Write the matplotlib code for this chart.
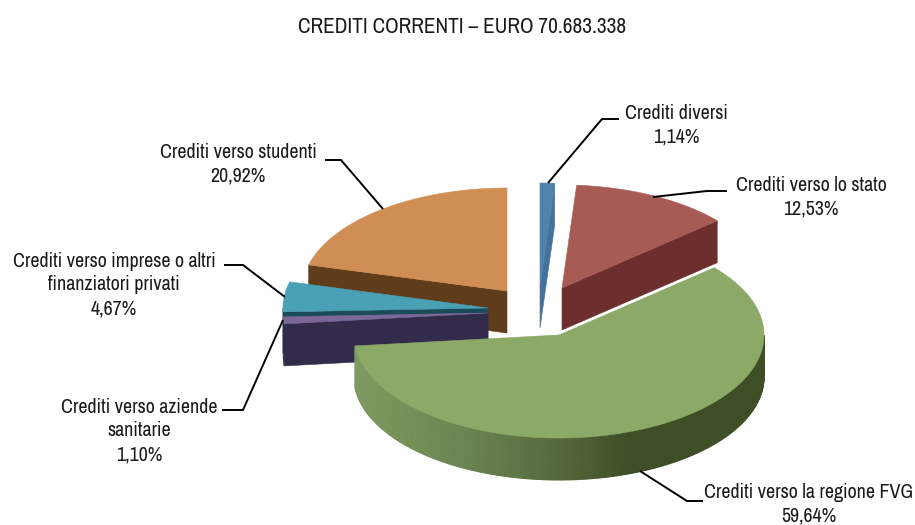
import numpy as np
import matplotlib
matplotlib.use("Agg")
import matplotlib.pyplot as plt
from matplotlib.colors import LinearSegmentedColormap, Normalize
from matplotlib.patches import Polygon
from matplotlib import font_manager as fm

installed = {f.name for f in fm.fontManager.ttflist}
for fam in ['Archivo Narrow', 'Pragati Narrow', 'PT Sans Narrow', 'Roboto Condensed', 'Liberation Sans']:
    if fam in installed:
        plt.rcParams['font.family'] = [fam, 'DejaVu Sans']
        break

TITLE = "CREDITI CORRENTI – EURO 70.683.338"
categories = ["Crediti diversi", "Crediti verso lo stato", "Crediti verso la regione FVG",
              "Crediti verso aziende\nsanitarie",
              "Crediti verso imprese o altri\nfinanziatori privati", "Crediti verso studenti"]
values = [1.14, 12.53, 59.64, 1.10, 4.67, 20.92]

top_colors = ["#5082ab", "#a85a55", "#8da968", "#7b6798", "#4aa0b5", "#d18e54"]
wall_colors = ["#44729b", "#6c2f2e", "#3e4e27", "#322b4b", "#1a4b58", "#5f3c1a"]
apexes = [(540, 286), (562, 288), (559, 335), (488, 313), (488, 308), (507, 291)]
draw_order = [5, 4, 3, 0, 1, 2]
RX, RY, DEPTH = 205, 103, 42

label_pos = [(676, 125), (811, 197), (809, 504), (139, 431), (114, 285), (238, 164)]
leaders = [[(548, 183), (602, 119), (619, 119)],
           [(653, 197), (707, 191), (727, 191)],
           [(640, 471), (687, 501), (703, 501)],
           [(283, 320), (243, 410), (222, 410)],
           [(285, 297), (243, 265), (224, 265)],
           [(383, 209), (341, 160), (325, 160)]]
grad_x = np.array([352, 390, 470, 560, 630, 764])
grad_c = ["#7f9a62", "#78945a", "#6b8350", "#56693b", "#3e4e27", "#3e4e27"]
rim_cmap = LinearSegmentedColormap.from_list(
    "rim", list(zip((grad_x - grad_x[0]) / (grad_x[-1] - grad_x[0]), grad_c)))
rim_norm = Normalize(grad_x[0], grad_x[-1])

fig = plt.figure(figsize=(9.15, 5.25), dpi=100, facecolor="white")
ax = fig.add_axes([0, 0, 1, 1])
ax.set_xlim(0, 915)
ax.set_ylim(525, 0)
ax.axis("off")

edges = np.radians(np.concatenate([[0], np.cumsum(values)]) * 3.6)


def pt(apex, th, dz=0):
    return (apex[0] + RX * np.sin(th), apex[1] - RY * np.cos(th) + dz)


def poly(points, color, z):
    ax.add_patch(Polygon(points, closed=True, facecolor=color, edgecolor=color,
                         linewidth=0.4, zorder=z))


for n, i in enumerate(draw_order):
    a0, a1 = edges[i], edges[i + 1]
    apex = apexes[i]
    z = 2 + n
    low = (apex[0], apex[1] + DEPTH)
    # cut faces that turn toward the viewer
    if np.sin(a0) < -1e-6:
        poly([apex, pt(apex, a0), pt(apex, a0, DEPTH), low], wall_colors[i], z)
    if np.sin(a1) > 1e-6:
        poly([apex, pt(apex, a1), pt(apex, a1, DEPTH), low], wall_colors[i], z)
    # outer rim on the near half
    r0, r1 = max(a0, np.pi / 2), min(a1, 3 * np.pi / 2)
    if r1 > r0:
        t = np.linspace(r0, r1, 300)
        xr = apex[0] + RX * np.sin(t)
        yr = apex[1] - RY * np.cos(t)
        if i == 2:
            X = np.vstack([xr, xr])
            Y = np.vstack([yr, yr + DEPTH])
            ax.pcolormesh(X, Y, X, shading="gouraud", cmap=rim_cmap, norm=rim_norm, zorder=z)
        else:
            poly(list(zip(xr, yr)) + list(zip(xr[::-1], yr[::-1] + DEPTH)), wall_colors[i], z)
    # top surface
    t = np.linspace(a0, a1, max(int((a1 - a0) * 60), 4))
    poly([apex] + [pt(apex, x) for x in t], top_colors[i], z + 0.5)

for path in leaders:
    xs, ys = zip(*path)
    ax.plot(xs, ys, color="black", lw=1.4, zorder=20, solid_capstyle="butt", solid_joinstyle="miter")

for name, v, (x, y) in zip(categories, values, label_pos):
    ax.text(x, y, f"{name}\n{v:.2f}".replace(".", ",") + "%", ha="center", va="center",
            fontsize=14.4, color="#1a1a1a", linespacing=1.33, zorder=21)

ax.text(462, 27, TITLE, ha="center", va="center", fontsize=15.3, color="#1a1a1a")
fig.savefig("out.png", dpi=100)
